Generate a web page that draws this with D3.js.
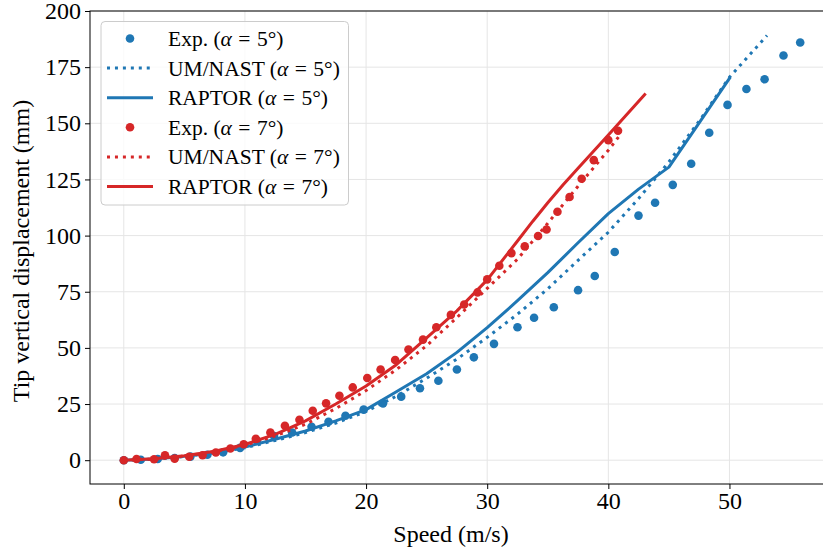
<!DOCTYPE html>
<html>
<head>
<meta charset="utf-8">
<script src="https://cdn.jsdelivr.net/npm/d3@7"></script>
<style>
  body { margin: 0; background: #fff; }
  svg text { font-family: "Liberation Serif", "Times New Roman", serif; fill: #000; }
</style>
</head>
<body>
<svg id="chart" width="823" height="552"></svg>
<script>
// experiment, alpha = 5 deg
var expSpeed5 = [0, 1.4, 2.8, 4.2, 5.5, 6.9, 8.2, 9.6, 11.0, 12.4, 13.9, 15.5, 16.9, 18.3, 19.8, 21.4, 22.9, 24.45, 25.97, 27.5, 28.9, 30.56, 32.5, 33.87, 35.5, 37.5, 38.88, 40.53, 42.49, 43.86, 45.32, 46.84, 48.33, 49.84, 51.4, 52.9, 54.46, 55.84];
var expDisp5 = [0, 0.2, 0.5, 1.0, 1.6, 2.4, 3.5, 5.5, 8.6, 10.8, 12.3, 14.9, 17.1, 19.8, 22.5, 25.3, 28.3, 32.0, 35.4, 40.4, 45.8, 51.8, 59.2, 63.4, 68.1, 75.7, 82.0, 92.7, 108.9, 114.6, 122.6, 132.0, 145.8, 158.2, 165.3, 169.6, 180.2, 186.0];
// UM/NAST, alpha = 5 deg
var nastSpeed5 = [0, 2.5, 5, 7.5, 10, 12.5, 15, 17.5, 20, 22.5, 25, 27.5, 30, 32.5, 35, 37.5, 40, 42.5, 45, 47.5, 50, 52.5, 53.1];
var nastDisp5 = [0, 0.4, 1.6, 3.3, 5.5, 8.8, 12.3, 16.5, 21.7, 28.5, 36.5, 45, 54.7, 65, 76.3, 89, 101.5, 116.5, 132.8, 151, 170.5, 185.5, 189.1];
// RAPTOR, alpha = 5 deg
var raptorSpeed5 = [0, 2.5, 5, 7.5, 10, 12.5, 15, 17.5, 20, 22.5, 25, 27.5, 30, 32.5, 35, 37.5, 40, 42.5, 45, 47.5, 50];
var raptorDisp5 = [0, 0.5, 1.8, 3.5, 5.8, 9.3, 13, 17.5, 22.5, 30.5, 38.5, 48, 59, 71, 83.5, 96.8, 109.8, 120.7, 130.5, 150.2, 170];

// experiment, alpha = 7 deg
var expSpeed7 = [0, 1.05, 2.5, 3.4, 4.2, 5.4, 6.5, 7.6, 8.8, 9.9, 10.9, 12.1, 13.3, 14.5, 15.6, 16.7, 17.8, 18.9, 20.1, 21.2, 22.4, 23.5, 24.7, 25.8, 27.0, 28.1, 29.2, 30.0, 31.0, 32.0, 33.1, 34.2, 34.9, 35.8, 36.8, 37.8, 38.8, 40.0, 40.8];
var expDisp7 = [0, 0.5, 0.4, 2.2, 0.7, 1.5, 2.2, 3.4, 5.2, 7.1, 9.5, 12.3, 15.3, 18, 22, 25.3, 28.7, 32.4, 36.6, 40.4, 44.6, 49.3, 53.7, 59.2, 64.7, 69.3, 74.7, 80.5, 86.6, 92.2, 95.2, 99.8, 102.7, 110.6, 117.2, 125.3, 133.6, 142.5, 146.7];
// UM/NAST, alpha = 7 deg
var nastSpeed7 = [0, 2.5, 5, 7.5, 10, 12.5, 15, 17.5, 20, 22.5, 25, 27.5, 30, 32.5, 35, 37.5, 40, 40.9];
var nastDisp7 = [0, 0.5, 1.8, 3.8, 6.7, 10.8, 16, 23, 31, 40.3, 51, 63.5, 76.5, 89.5, 105.5, 122, 138, 144.3];
// RAPTOR, alpha = 7 deg
var raptorSpeed7 = [0, 2.5, 5, 7.5, 10, 12.5, 15, 17.5, 20, 22.5, 25, 27.5, 30, 32.5, 33.75, 35, 36.25, 37.5, 40, 43];
var raptorDisp7 = [0, 0.6, 2, 4, 7, 11.5, 17.5, 25, 33, 42.5, 54.5, 66.5, 80.3, 97.6, 106.3, 114.6, 122.5, 130, 144.8, 162.8];

var xTicks = [0, 10, 20, 30, 40, 50];
var yTicks = [0, 25, 50, 75, 100, 125, 150, 175, 200];

(function () {
  var blue = '#1f77b4', red = '#d62728';

  var svg = d3.select('#chart');
  var plotLeft = 90, plotRight = 834, plotTop = 11, plotBottom = 484;

  var x = d3.scaleLinear().domain([-2.79, 58.63]).range([plotLeft, plotRight]);
  var y = d3.scaleLinear().domain([-10.6, 200]).range([plotBottom, plotTop]);

  function zip(xs, ys) {
    return xs.map(function(v, i) { return [v, ys[i]]; });
  }

  svg.append('defs').append('clipPath').attr('id', 'plot-clip')
    .append('rect')
    .attr('x', plotLeft).attr('y', plotTop)
    .attr('width', plotRight - plotLeft).attr('height', plotBottom - plotTop);

  // grid
  svg.append('g').selectAll('line')
    .data(xTicks)
    .enter().append('line')
    .attr('x1', function(d) { return x(d); })
    .attr('x2', function(d) { return x(d); })
    .attr('y1', plotTop).attr('y2', plotBottom)
    .attr('stroke', '#e5e5e5').attr('stroke-width', 1);
  svg.append('g').selectAll('line')
    .data(yTicks)
    .enter().append('line')
    .attr('y1', function(d) { return y(d); })
    .attr('y2', function(d) { return y(d); })
    .attr('x1', plotLeft).attr('x2', plotRight)
    .attr('stroke', '#e5e5e5').attr('stroke-width', 1);

  var plot = svg.append('g').attr('clip-path', 'url(#plot-clip)');
  var line = d3.line()
    .x(function(d) { return x(d[0]); })
    .y(function(d) { return y(d[1]); });

  function drawLine(xs, ys, color, dotted) {
    var p = plot.append('path')
      .datum(zip(xs, ys))
      .attr('d', line)
      .attr('fill', 'none')
      .attr('stroke', color)
      .attr('stroke-width', 3);
    if (dotted) {
      p.attr('stroke-dasharray', '3,4.95');
    } else {
      p.attr('stroke-linecap', 'square').attr('stroke-linejoin', 'round');
    }
  }

  function drawDots(xs, ys, color) {
    plot.append('g').selectAll('circle')
      .data(zip(xs, ys))
      .enter().append('circle')
      .attr('cx', function(d) { return x(d[0]); })
      .attr('cy', function(d) { return y(d[1]); })
      .attr('r', 4.3)
      .attr('fill', color);
  }

  // same order as the legend
  drawDots(expSpeed5, expDisp5, blue);
  drawLine(nastSpeed5, nastDisp5, blue, true);
  drawLine(raptorSpeed5, raptorDisp5, blue, false);
  drawDots(expSpeed7, expDisp7, red);
  drawLine(nastSpeed7, nastDisp7, red, true);
  drawLine(raptorSpeed7, raptorDisp7, red, false);

  // frame
  svg.append('rect')
    .attr('x', plotLeft).attr('y', plotTop)
    .attr('width', plotRight - plotLeft).attr('height', plotBottom - plotTop)
    .attr('fill', 'none').attr('stroke', '#000').attr('stroke-width', 1);

  var xAxis = svg.append('g')
    .attr('transform', 'translate(0,' + plotBottom + ')')
    .call(d3.axisBottom(x).tickValues(xTicks).tickSize(5).tickPadding(3).tickFormat(d3.format('d')));
  var yAxis = svg.append('g')
    .attr('transform', 'translate(' + plotLeft + ',0)')
    .call(d3.axisLeft(y).tickValues(yTicks).tickSize(5).tickPadding(4).tickFormat(d3.format('d')));
  [xAxis, yAxis].forEach(function(a) {
    a.select('.domain').remove();
    a.selectAll('text').attr('font-size', 24).attr('font-family', '"Liberation Serif", serif');
    a.selectAll('line').attr('stroke', '#000');
  });

  svg.append('text')
    .attr('x', 451)
    .attr('y', 542)
    .attr('text-anchor', 'middle')
    .attr('font-size', 24)
    .text('Speed (m/s)');
  svg.append('text')
    .attr('transform', 'translate(29,251) rotate(-90)')
    .attr('text-anchor', 'middle')
    .attr('font-size', 24)
    .text('Tip vertical displacement (mm)');

  // legend
  var legendItems = [
    { kind: 'dot', color: blue, name: 'Exp.', angle: '5' },
    { kind: 'dotted', color: blue, name: 'UM/NAST', angle: '5' },
    { kind: 'solid', color: blue, name: 'RAPTOR', angle: '5' },
    { kind: 'dot', color: red, name: 'Exp.', angle: '7' },
    { kind: 'dotted', color: red, name: 'UM/NAST', angle: '7' },
    { kind: 'solid', color: red, name: 'RAPTOR', angle: '7' }
  ];
  var legend = svg.append('g');
  legend.append('rect')
    .attr('x', 101).attr('y', 21.5)
    .attr('width', 247.5).attr('height', 183.5)
    .attr('rx', 4)
    .attr('fill', '#fff').attr('fill-opacity', 0.8)
    .attr('stroke', '#ccc').attr('stroke-width', 1);

  var rows = legend.selectAll('.legend-row')
    .data(legendItems)
    .enter().append('g')
    .attr('class', 'legend-row')
    .attr('transform', function(d, i) { return 'translate(0,' + (38.5 + i * 29.6) + ')'; });

  rows.filter(function(d) { return d.kind === 'dot'; })
    .append('circle')
    .attr('cx', 130).attr('cy', 0).attr('r', 4.3)
    .attr('fill', function(d) { return d.color; });
  rows.filter(function(d) { return d.kind !== 'dot'; })
    .append('line')
    .attr('x1', 107).attr('x2', 153)
    .attr('y1', 0).attr('y2', 0)
    .attr('stroke', function(d) { return d.color; })
    .attr('stroke-width', 3)
    .attr('stroke-dasharray', function(d) { return d.kind === 'dotted' ? '3,4.95' : null; });

  var label = rows.append('text')
    .attr('x', 168).attr('y', 7.5)
    .attr('font-size', 21.5);
  label.append('tspan').text(function(d) { return d.name + ' ('; });
  label.append('tspan').attr('font-style', 'italic').text('α');
  label.append('tspan').attr('dx', 6.5).text('=');
  label.append('tspan').attr('dx', 6.5).text(function(d) { return d.angle + '°)'; });
})();
</script>
</body>
</html>
